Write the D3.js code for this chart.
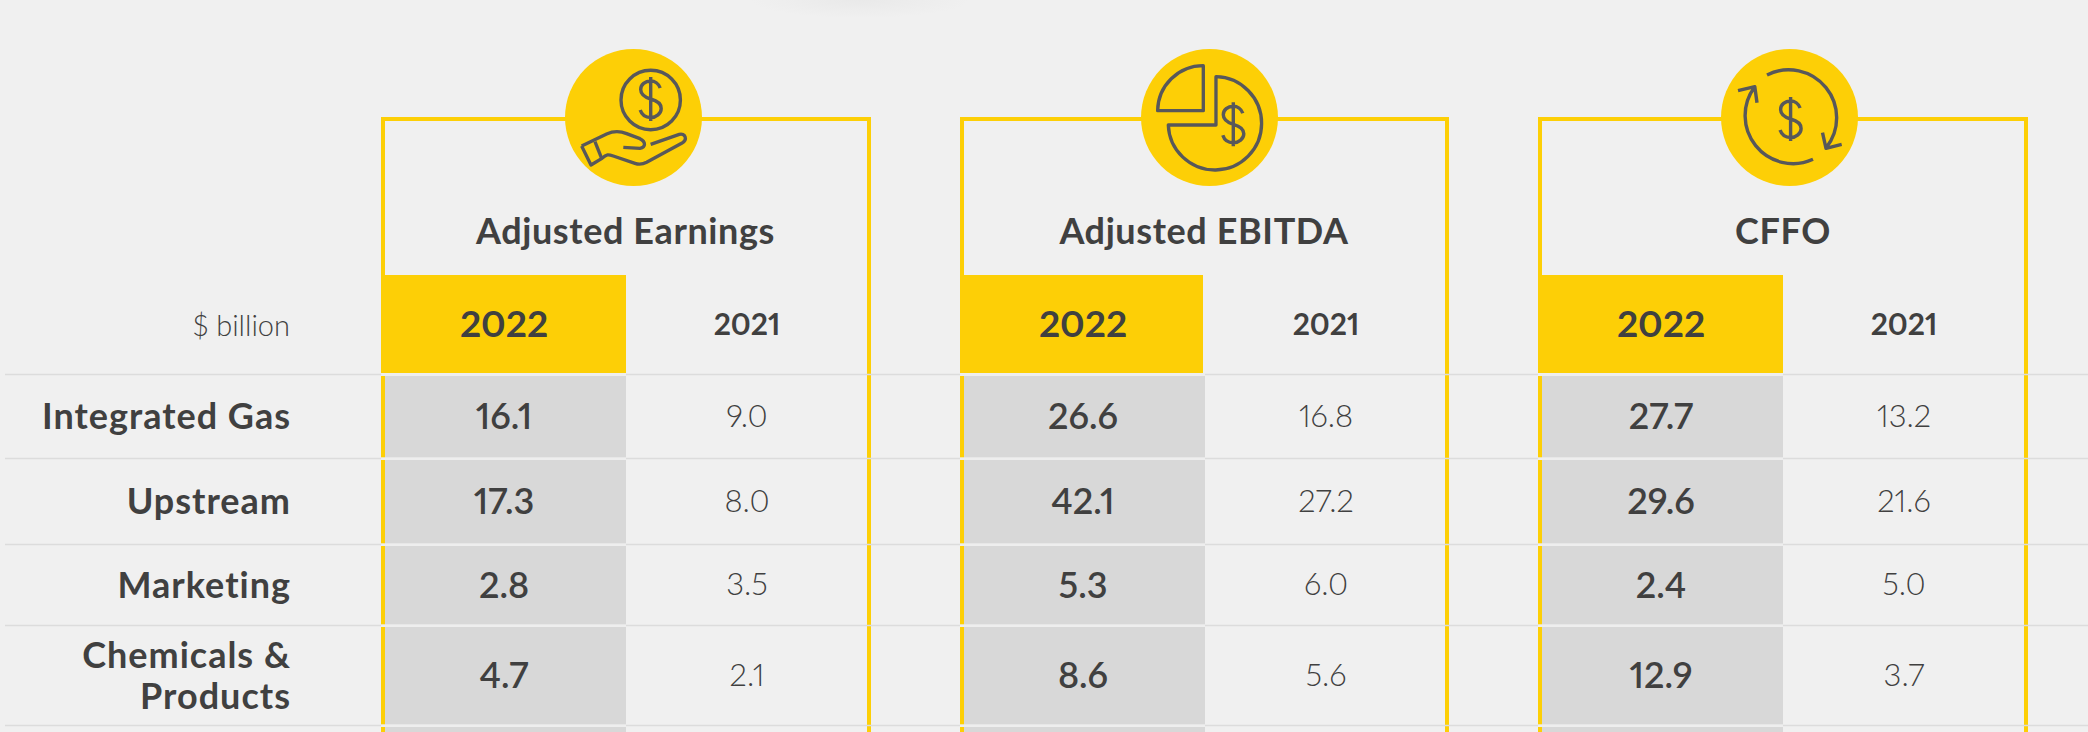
<!DOCTYPE html>
<html>
<head>
<meta charset="utf-8">
<script src="https://cdn.jsdelivr.net/npm/d3@7"></script>
<style>
html, body { margin: 0; padding: 0; background: #f0f0f0; }
svg { display: block; }
text { font-family: Lato, sans-serif; fill: #404040; font-variant-numeric: proportional-nums; font-feature-settings: "pnum" 1; }
</style>
</head>
<body>
<svg id="chart" width="2088" height="732"></svg>
<script>
var metrics = ["Adjusted Earnings", "Adjusted EBITDA", "CFFO"];
var years = ["2022", "2021"];
var segments = ["Integrated Gas", "Upstream", "Marketing", "Chemicals & Products"];
var unitLabel = "$ billion";

var earnings2022 = [16.1, 17.3, 2.8, 4.7];
var earnings2021 = [9.0, 8.0, 3.5, 2.1];
var ebitda2022 = [26.6, 42.1, 5.3, 8.6];
var ebitda2021 = [16.8, 27.2, 6.0, 5.6];
var cffo2022 = [27.7, 29.6, 2.4, 12.9];
var cffo2021 = [13.2, 21.6, 5.0, 3.7];

var table = [
    [earnings2022, earnings2021],
    [ebitda2022, ebitda2021],
    [cffo2022, cffo2021]
];

var width = 2088, height = 732;
var yellow = "#fdcf06", cellGrey = "#d8d8d8", lineGrey = "#dcdcdc", iconGrey = "#58585a", bg = "#f0f0f0";
var fmt = d3.format(".1f");

var svg = d3.select("#chart");

// layout scales, rows are not evenly tall so band scale is no use here
var rowEdges = [375, 459, 545, 626, 726];
var rowTop = d3.scaleOrdinal().domain(segments).range(rowEdges);
var rowBottom = d3.scaleOrdinal().domain(segments).range(rowEdges.slice(1));
var rowMid = function(s) { return (rowTop(s) + rowBottom(s)) / 2; };

var panelLeft = d3.scaleOrdinal().domain(metrics).range([381, 960, 1538]);
var panelRight = d3.scaleOrdinal().domain(metrics).range([871, 1449, 2028]);
var headRight = d3.scaleOrdinal().domain(metrics).range([626, 1203, 1783]);
var cellRight = d3.scaleOrdinal().domain(metrics).range([626, 1205, 1783]);
var titleX = d3.scaleOrdinal().domain(metrics).range([625.5, 1204, 1783]);
var iconX = d3.scaleOrdinal().domain(metrics).range([633.5, 1209.5, 1789.5]);
var colOffset = d3.scaleOrdinal().domain(years).range([123, 366]);

var borderW = 4, topY = 117, headTop = 275, headBottom = 373.5;

// faint smudge in the page background
var defs = svg.append("defs");
var smudge = defs.append("radialGradient").attr("id", "smudge");
smudge.append("stop").attr("offset", "0%").attr("stop-color", "#e9e9e9");
smudge.append("stop").attr("offset", "100%").attr("stop-color", bg);

svg.append("rect").attr("width", width).attr("height", height).attr("fill", bg);
svg.append("ellipse")
    .attr("cx", 860).attr("cy", 0)
    .attr("rx", 110).attr("ry", 18)
    .attr("fill", "url(#smudge)");

// right hand border first, row rules run over it
svg.selectAll(".right-border").data(metrics).join("rect")
    .attr("class", "right-border")
    .attr("x", function(d) { return panelRight(d) - borderW; })
    .attr("y", topY)
    .attr("width", borderW)
    .attr("height", height - topY)
    .attr("fill", yellow);

svg.selectAll(".rule").data(rowEdges).join("line")
    .attr("class", "rule")
    .attr("x1", 5).attr("x2", width)
    .attr("y1", function(d) { return d - 0.5; })
    .attr("y2", function(d) { return d - 0.5; })
    .attr("stroke", lineGrey)
    .attr("stroke-width", 1.4);

var panels = svg.selectAll(".panel").data(metrics).join("g").attr("class", "panel");

// top and left border
panels.append("rect")
    .attr("x", function(d) { return panelLeft(d); })
    .attr("y", topY)
    .attr("width", function(d) { return panelRight(d) - panelLeft(d); })
    .attr("height", borderW)
    .attr("fill", yellow);
panels.append("rect")
    .attr("x", function(d) { return panelLeft(d); })
    .attr("y", topY)
    .attr("width", borderW)
    .attr("height", headTop - topY)
    .attr("fill", yellow);

// 2022 header block
panels.append("rect")
    .attr("x", function(d) { return panelLeft(d); })
    .attr("y", headTop)
    .attr("width", function(d) { return headRight(d) - panelLeft(d); })
    .attr("height", headBottom - headTop)
    .attr("fill", yellow);

panels.append("text")
    .attr("x", titleX)
    .attr("y", 244)
    .attr("text-anchor", "middle")
    .style("font-size", "36px")
    .style("font-weight", 700)
    .style("letter-spacing", "0.6px")
    .text(function(d) { return d; });

panels.each(function(m, mi) {
    var g = d3.select(this);
    var left = panelLeft(m);

    // light gap over the rule in the 2022 column, grey cell and yellow stripe per row
    rowEdges.forEach(function(e) {
        g.append("rect")
            .attr("x", left).attr("y", e - 2)
            .attr("width", cellRight(m) - left).attr("height", 3)
            .attr("fill", "#eeeeee");
    });
    var cellRows = segments.map(function(s) {
        return {top: rowTop(s) + 1, bottom: rowBottom(s) - 1.7};
    });
    // last row is cut off by the bottom of the picture
    cellRows.push({top: rowEdges[rowEdges.length - 1] + 1, bottom: height});

    g.selectAll(".stripe").data(cellRows).join("rect")
        .attr("class", "stripe")
        .attr("x", left)
        .attr("y", function(d) { return d.top; })
        .attr("width", borderW)
        .attr("height", function(d) { return d.bottom - d.top; })
        .attr("fill", yellow);
    g.selectAll(".cell").data(cellRows).join("rect")
        .attr("class", "cell")
        .attr("x", left + borderW)
        .attr("y", function(d) { return d.top; })
        .attr("width", cellRight(m) - left - borderW)
        .attr("height", function(d) { return d.bottom - d.top; })
        .attr("fill", cellGrey);

    years.forEach(function(y, yi) {
        var strong = yi === 0;
        var cx = left + colOffset(y);

        g.append("text")
            .attr("x", cx)
            .attr("y", strong ? 336.5 : 335)
            .attr("text-anchor", "middle")
            .style("font-size", strong ? "37px" : "30px")
            .style("font-weight", 700)
            .text(y);

        g.selectAll(".val" + yi).data(table[mi][yi]).join("text")
            .attr("class", "val" + yi)
            .attr("x", cx)
            .attr("y", function(d, i) { return rowMid(segments[i]) + (strong ? 12 : 9.5); })
            .attr("text-anchor", "middle")
            .style("font-size", strong ? "36px" : "31px")
            .style("font-weight", strong ? 600 : 300)
            .text(fmt);
    });
});

svg.append("text")
    .attr("x", 290)
    .attr("y", 335.5)
    .attr("text-anchor", "end")
    .style("font-size", "29px")
    .style("font-weight", 300)
    .text(unitLabel);

// right aligned labels, wrapped the same way as a d3 axis label wrap
function wrapRight(text, maxWidth, lineHeight) {
    text.each(function(d) {
        var label = d3.select(this),
            words = label.text().split(/\s+/).reverse(),
            word,
            line = [],
            lines = [];
        var tspan = label.text(null).append("tspan");
        while (word = words.pop()) {
            line.push(word);
            tspan.text(line.join(" "));
            if (tspan.node().getComputedTextLength() > maxWidth) {
                line.pop();
                lines.push(line.join(" "));
                line = [word];
            }
        }
        lines.push(line.join(" "));
        tspan.remove();
        var start = rowMid(d) + 12 - (lines.length - 1) * lineHeight / 2;
        lines.forEach(function(l, i) {
            label.append("tspan")
                .attr("x", 291)
                .attr("y", start + i * lineHeight)
                .text(l);
        });
    });
}

svg.selectAll(".segment").data(segments).join("text")
    .attr("class", "segment")
    .attr("text-anchor", "end")
    .style("font-size", "36px")
    .style("font-weight", 700)
    .style("letter-spacing", "1px")
    .text(function(d) { return d; })
    .call(wrapRight, 270, 41);

// icons
function dollarPath(cx, cy) {
    var p = d3.path();
    p.moveTo(cx, cy - 22); p.lineTo(cx, cy + 22);
    p.moveTo(cx + 9.5, cy - 11);
    p.bezierCurveTo(cx + 8, cy - 15.5, cx + 4, cy - 18, cx, cy - 18);
    p.bezierCurveTo(cx - 5.5, cy - 18, cx - 10, cy - 14.5, cx - 10, cy - 9.5);
    p.bezierCurveTo(cx - 10, cy - 3.5, cx - 5, cy - 1.5, cx, cy);
    p.bezierCurveTo(cx + 5.5, cy + 1.5, cx + 10.5, cy + 4, cx + 10.5, cy + 9.5);
    p.bezierCurveTo(cx + 10.5, cy + 14.5, cx + 5.5, cy + 18.5, cx, cy + 18.5);
    p.bezierCurveTo(cx - 5, cy + 18.5, cx - 9, cy + 15.5, cx - 10.5, cy + 11);
    return p.toString();
}

var icons = svg.selectAll(".icon").data(metrics).join("g").attr("class", "icon");
icons.append("circle")
    .attr("cx", iconX)
    .attr("cy", 117.5)
    .attr("r", 68.5)
    .attr("fill", yellow);

function iconPath(g, d) {
    return g.append("path")
        .attr("d", d)
        .attr("fill", "none")
        .attr("stroke", iconGrey)
        .attr("stroke-width", 3.4)
        .attr("stroke-linejoin", "round")
        .attr("stroke-linecap", "butt");
}

// hand with coin
var hand = d3.select(icons.nodes()[0]);
hand.append("circle")
    .attr("cx", 650.7).attr("cy", 100).attr("r", 29.7)
    .attr("fill", "none").attr("stroke", iconGrey).attr("stroke-width", 3.4);
iconPath(hand, dollarPath(650.7, 99));
var handG = hand.append("g").attr("transform", "translate(360,30) scale(0.3333)");
iconPath(handG, "M665,348 L693,405 L726,385 C740,372 745,373 760,378 L825,400 C840,405 850,402 860,397 L965,340 C985,328 975,308 958,313 L872,343")
    .attr("stroke-width", 10);
iconPath(handG, "M665,348 L740,312 C760,303 780,303 800,311 L840,326 C858,335 858,352 840,355 L790,352")
    .attr("stroke-width", 10);
iconPath(handG, "M705,335 L725,385").attr("stroke-width", 10);

// pie
var pie = d3.select(icons.nodes()[1]);
var pieG = pie.append("g").attr("transform", "translate(940,30) scale(0.3333)");
iconPath(pieG, "M790,107 L790,242 L653,242 A137,137 0 0 1 790,107 Z").attr("stroke-width", 10);
iconPath(pieG, "M828,140 A140,140 0 1 1 685,285 L828,285 Z").attr("stroke-width", 10);
iconPath(pie, dollarPath(1233.3, 124.3));

// cycle
var cycle = d3.select(icons.nodes()[2]);
iconPath(cycle, "M1767,75 A48,48 0 0 1 1826,148 M1822.5,132.7 L1826,148.3 L1841.7,144.3");
iconPath(cycle, "M1813,159.3 A48,48 0 0 1 1754.8,86.7 M1738,90.7 L1754.8,86.7 L1757,102.7");
iconPath(cycle, dollarPath(1790.6, 119));
</script>
</body>
</html>
